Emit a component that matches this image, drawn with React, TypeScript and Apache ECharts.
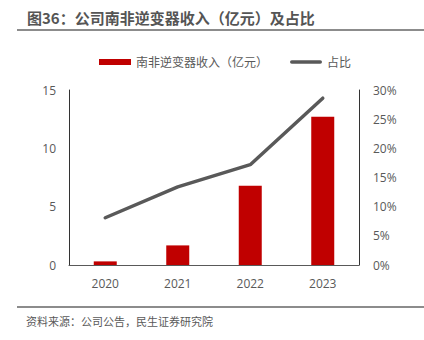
import React, { useEffect, useRef } from "react";
import * as echarts from "echarts";

const categories = ["2020", "2021", "2022", "2023"];
const revenue = [0.31, 1.68, 6.8, 12.7];
const share = [8.1, 13.4, 17.2, 28.6];
const leftTicks = [0, 5, 10, 15];
const rightTicks = [0, 5, 10, 15, 20, 25, 30];

const FONT = "'Open Sans', 'Noto Sans CJK SC', sans-serif";
const LINE_ICON =
  "path://M1.75,0 L30.25,0 A1.75,1.75 0 0 1 30.25,3.5 L1.75,3.5 A1.75,1.75 0 0 1 1.75,0 Z";

export default function App() {
  const ref = useRef<HTMLDivElement>(null);
  useEffect(() => {
    const chart = echarts.init(ref.current!, null, { renderer: "svg" });
    chart.setOption({
      animation: false,
      textStyle: { fontFamily: FONT },
      graphic: [
        {
          type: "text",
          left: 27,
          top: 10,
          style: {
            text: "图36：公司南非逆变器收入（亿元）及占比",
            fontSize: 15,
            fontWeight: "bold",
            fill: "#555555",
            fontFamily: "'Noto Sans CJK SC', sans-serif",
          },
        },
        {
          type: "line",
          shape: { x1: 17, y1: 30, x2: 424, y2: 30 },
          style: { stroke: "#666666", lineWidth: 1.5 },
        },
        {
          type: "line",
          shape: { x1: 17, y1: 307, x2: 424, y2: 307 },
          style: { stroke: "#666666", lineWidth: 1.5 },
        },
        {
          type: "text",
          left: 26,
          top: 315,
          style: {
            text: "资料来源：公司公告，民生证券研究院",
            fontSize: 11,
            fill: "#595959",
            fontFamily: "'Noto Sans CJK SC', sans-serif",
          },
        },
      ],
      legend: {
        top: 51,
        left: 94,
        itemGap: 22,
        itemWidth: 32,
        itemHeight: 6,
        textStyle: { color: "#595959", fontSize: 12, fontFamily: FONT },
        data: [
          { name: "南非逆变器收入（亿元）", icon: "rect" },
          { name: "占比", icon: LINE_ICON },
        ],
      },
      grid: { left: 69, right: 65, top: 90, bottom: 75 },
      xAxis: {
        type: "category",
        data: categories,
        axisLine: { lineStyle: { color: "#595959", width: 1 } },
        axisTick: { show: false },
        axisLabel: { color: "#595959", fontSize: 12, margin: 12 },
      },
      yAxis: [
        {
          type: "value",
          min: leftTicks[0],
          max: leftTicks[leftTicks.length - 1],
          interval: 5,
          axisLine: { show: true, lineStyle: { color: "#333333", width: 1 } },
          axisTick: { show: false },
          splitLine: { show: false },
          axisLabel: { color: "#595959", fontSize: 12, margin: 13 },
        },
        {
          type: "value",
          min: rightTicks[0],
          max: rightTicks[rightTicks.length - 1],
          interval: 5,
          axisLine: { show: true, lineStyle: { color: "#333333", width: 1 } },
          axisTick: { show: false },
          splitLine: { show: false },
          axisLabel: { color: "#595959", fontSize: 12, margin: 14, formatter: "{value}%" },
        },
      ],
      series: [
        {
          name: "南非逆变器收入（亿元）",
          type: "bar",
          data: revenue,
          barWidth: 23,
          itemStyle: { color: "#C00000" },
        },
        {
          name: "占比",
          type: "line",
          yAxisIndex: 1,
          data: share,
          symbol: "none",
          lineStyle: { color: "#595959", width: 3.5, cap: "round" },
          itemStyle: { color: "#595959" },
        },
      ],
    });
    return () => chart.dispose();
  }, []);
  return <div ref={ref} style={{ width: 424, height: 340, position: "absolute", left: 0, top: 0 }} />;
}
